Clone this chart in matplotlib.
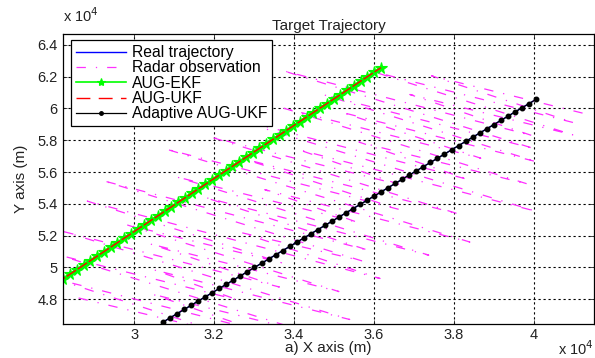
import numpy as np
import matplotlib
matplotlib.use("Agg")
import matplotlib.pyplot as plt
from matplotlib.ticker import FixedLocator, FuncFormatter

plt.rcParams['font.family'] = ['Liberation Sans', 'DejaVu Sans']
plt.rcParams['font.size'] = 11

# true target path (m)
real_x = [30725, 30901, 31077, 31253, 31429, 31605, 31781, 31957, 32133, 32309,
          32485, 32661, 32837, 33013, 33189, 33365, 33541, 33717, 33893, 34069,
          34245, 34421, 34597, 34773, 34949, 35125, 35301, 35477, 35653, 35829,
          36005, 36181, 36357, 36533, 36709, 36885, 37061, 37237, 37413, 37589,
          37765, 37941, 38117, 38293, 38469, 38645, 38821, 38997, 39173, 39349,
          39525, 39701, 39877, 40053]
real_y = [46550, 46815, 47079, 47344, 47608, 47873, 48137, 48402, 48666, 48931,
          49195, 49460, 49724, 49989, 50253, 50518, 50782, 51047, 51311, 51576,
          51840, 52105, 52369, 52634, 52898, 53163, 53427, 53692, 53956, 54221,
          54485, 54750, 55014, 55279, 55543, 55808, 56072, 56337, 56601, 56866,
          57130, 57395, 57659, 57924, 58188, 58453, 58717, 58982, 59246, 59511,
          59775, 60040, 60304, 60569]

# radar measurements (range/bearing converted to x-y)
radar_x = [28614, 32119, 27991, 33039, 30455, 34447, 28127, 32607, 30509, 35395,
           28263, 33635, 30401, 35124, 29779, 33690, 28831, 36153, 32675, 35693,
           29211, 35883, 31755, 37371, 31051, 35612, 33271, 38400, 30781, 36641,
           32757, 38130, 31891, 36695, 34111, 40052, 31864, 38374, 35627, 39863,
           33705, 38672, 35194, 40079, 34734, 40025, 33705, 39971, 36899, 40973,
           35952, 41000, 37441, 41433]
radar_y = [48068, 45939, 49298, 46059, 48309, 45829, 50765, 47935, 49834, 46712,
           52232, 48759, 51476, 48471, 52706, 50284, 54169, 49295, 52187, 50408,
           55461, 51054, 54413, 50765, 55701, 52813, 54887, 51590, 57460, 53637,
           56821, 53348, 58226, 55162, 57412, 53530, 59810, 55519, 57886, 55231,
           60050, 56869, 59761, 56639, 60874, 57460, 62396, 58281, 60881, 58343,
           62345, 59106, 62056, 59576]

# AUG-EKF estimate (AUG-UKF follows the same track)
ekf_x = [27218, 27387, 27556, 27725, 27894, 28063, 28232, 28401, 28570, 28739,
         28908, 29077, 29246, 29415, 29584, 29753, 29922, 30091, 30260, 30429,
         30598, 30767, 30936, 31105, 31274, 31443, 31612, 31781, 31950, 32119,
         32288, 32457, 32626, 32795, 32964, 33133, 33302, 33471, 33640, 33809,
         33978, 34147, 34316, 34485, 34654, 34823, 34992, 35161, 35330, 35499,
         35668, 35837, 36006, 36175]
ekf_y = [47592, 47875, 48157, 48440, 48722, 49005, 49288, 49570, 49853, 50135,
         50418, 50701, 50983, 51266, 51548, 51831, 52114, 52396, 52679, 52961,
         53244, 53527, 53809, 54092, 54374, 54657, 54940, 55222, 55505, 55787,
         56070, 56353, 56635, 56918, 57200, 57483, 57766, 58048, 58331, 58613,
         58896, 59179, 59461, 59744, 60026, 60309, 60592, 60874, 61157, 61439,
         61722, 62005, 62287, 62570]
ukf_x = ekf_x
ukf_y = ekf_y

# adaptive filter sits on the true path
adapt_x = real_x
adapt_y = real_y

x_ticks = [30000, 32000, 34000, 36000, 38000, 40000]
y_ticks = [48000, 50000, 52000, 54000, 56000, 58000, 60000, 62000, 64000]

txt = '#222222'

fig = plt.figure(figsize=(5.95, 3.58), dpi=100)
ax = fig.add_axes([0.106, 0.095, 0.892, 0.81])

ax.plot(real_x, real_y, color='blue', lw=1.0, label='Real trajectory')
ax.plot(radar_x, radar_y, color='#ff30ff', lw=0.9, dashes=(7.5, 8, 1, 8),
        label='Radar observation')
ax.plot(ekf_x, ekf_y, color=(0, 1, 0), lw=2.0, marker='*', ms=8.5,
        mec=(0, 1, 0), mew=0.8, label='AUG-EKF')
ax.plot(ukf_x, ukf_y, color='red', lw=1.0, dashes=(8, 1.5), label='AUG-UKF')
ax.plot(adapt_x, adapt_y, color='black', lw=0.9, marker='.', ms=6.5,
        label='Adaptive AUG-UKF')

ax.set_xlim(28225, 41500)
ax.set_ylim(46430, 64690)

ax.xaxis.set_major_locator(FixedLocator(x_ticks))
ax.yaxis.set_major_locator(FixedLocator(y_ticks))
fmt = FuncFormatter(lambda v, p: '%g' % round(v / 1e4, 2))
ax.xaxis.set_major_formatter(fmt)
ax.yaxis.set_major_formatter(fmt)
ax.tick_params(direction='in', length=3, width=0.6, top=True, right=True,
               labelsize=10.5, colors=txt, pad=4)
ax.tick_params(axis='x', pad=3)

ax.grid(True, color='black', lw=0.8, linestyle=(0, (2, 2.5)))
for s in ax.spines.values():
    s.set_linewidth(0.9)

ax.set_title('Target Trajectory', fontsize=11, pad=3, color=txt)
ax.set_xlabel('a) X axis (m)', fontsize=11, labelpad=-1, color=txt)
ax.set_ylabel('Y axis (m)', fontsize=11, labelpad=7, color=txt)

fig.text(0.106, 0.93, r'x 10$^4$', fontsize=10.5, ha='left', va='bottom',
         color=txt)
fig.text(0.998, 0.0, r'x 10$^4$', fontsize=10.5, ha='right', va='bottom',
         color=txt)

leg = ax.legend(loc='upper left', bbox_to_anchor=(0.015, 0.978),
                borderaxespad=0, handlelength=3.2, handletextpad=0.4,
                labelspacing=0.02, borderpad=0.3, fancybox=False,
                framealpha=1, edgecolor='black', fontsize=11.3)
leg.get_frame().set_linewidth(0.9)
# lighter handles in the key
hl = leg.get_lines()
hl[2].set_linewidth(1.2)
hl[2].set_markersize(6)
hl[3].set_dashes((10, 6))
hl[4].set_markersize(5)

fig.savefig('out.png', dpi=100)
